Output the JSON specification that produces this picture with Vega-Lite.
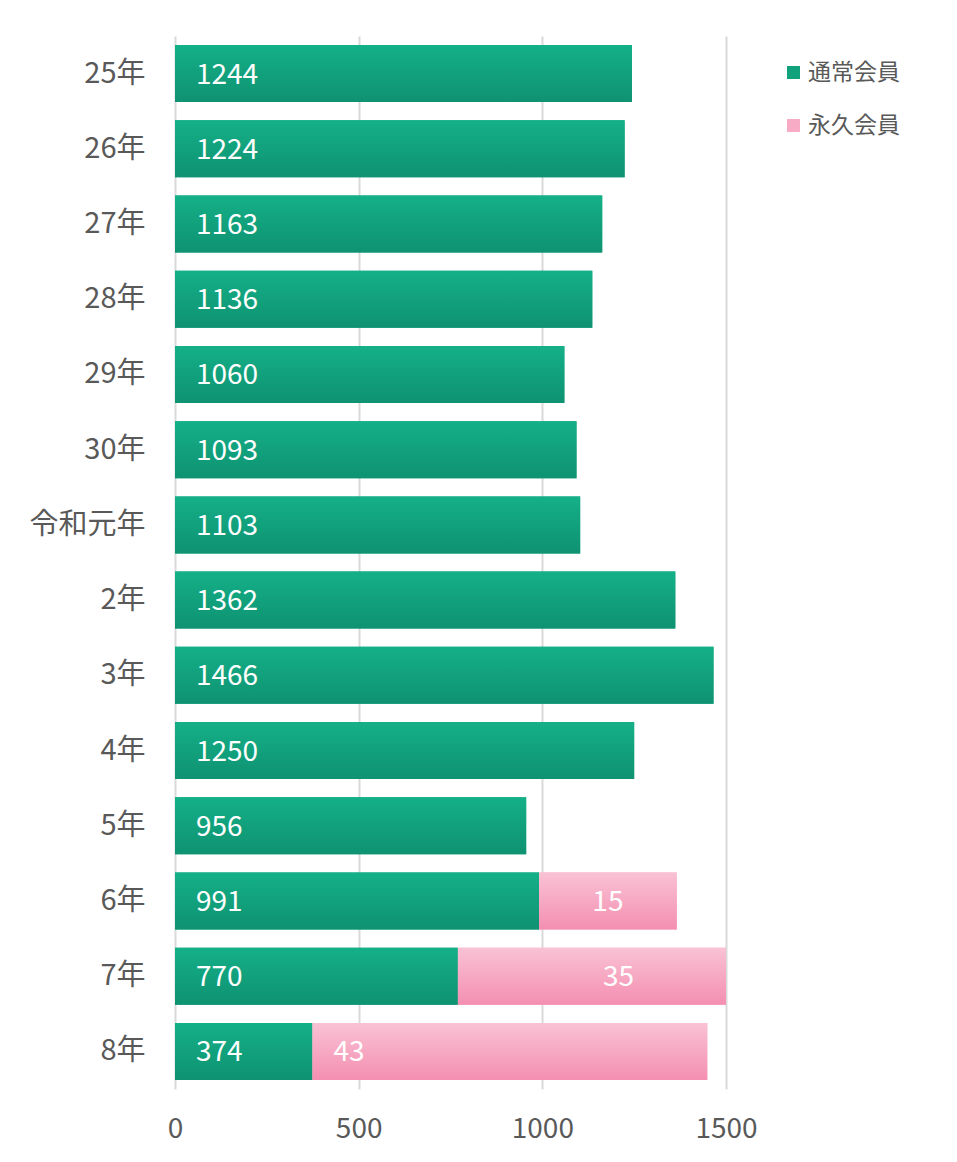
{
  "$schema": "https://vega.github.io/schema/vega-lite/v6.json",
  "width": 551,
  "height": 1053,
  "autosize": {"type": "none"},
  "padding": {"left": 175, "top": 36, "right": 231, "bottom": 73},
  "background": "white",
  "config": {"view": {"stroke": null}, "font": "Noto Sans CJK JP"},
  "data": {
    "values": [
      {"year": "25年", "series": "通常会員", "start": 0, "end": 1244, "label": 1244},
      {"year": "26年", "series": "通常会員", "start": 0, "end": 1224, "label": 1224},
      {"year": "27年", "series": "通常会員", "start": 0, "end": 1163, "label": 1163},
      {"year": "28年", "series": "通常会員", "start": 0, "end": 1136, "label": 1136},
      {"year": "29年", "series": "通常会員", "start": 0, "end": 1060, "label": 1060},
      {"year": "30年", "series": "通常会員", "start": 0, "end": 1093, "label": 1093},
      {"year": "令和元年", "series": "通常会員", "start": 0, "end": 1103, "label": 1103},
      {"year": "2年", "series": "通常会員", "start": 0, "end": 1362, "label": 1362},
      {"year": "3年", "series": "通常会員", "start": 0, "end": 1466, "label": 1466},
      {"year": "4年", "series": "通常会員", "start": 0, "end": 1250, "label": 1250},
      {"year": "5年", "series": "通常会員", "start": 0, "end": 956, "label": 956},
      {"year": "6年", "series": "通常会員", "start": 0, "end": 991, "label": 991},
      {"year": "7年", "series": "通常会員", "start": 0, "end": 770, "label": 770},
      {"year": "8年", "series": "通常会員", "start": 0, "end": 374, "label": 374},
      {"year": "6年", "series": "永久会員", "start": 991, "end": 1366, "label": 15},
      {"year": "7年", "series": "永久会員", "start": 770, "end": 1645, "label": 35},
      {"year": "8年", "series": "永久会員", "start": 374, "end": 1449, "label": 43}
    ]
  },
  "encoding": {
    "y": {
      "field": "year",
      "type": "nominal",
      "sort": ["25年", "26年", "27年", "28年", "29年", "30年", "令和元年", "2年", "3年", "4年", "5年", "6年", "7年", "8年"],
      "scale": {"paddingInner": 0.242, "paddingOuter": 0.121},
      "axis": {
        "title": null,
        "domain": false,
        "ticks": false,
        "labelFontSize": 29,
        "labelColor": "#595959",
        "labelPadding": 30,
        "labelFont": "Noto Sans CJK JP"
      }
    }
  },
  "layer": [
    {
      "mark": {"type": "bar", "clip": true},
      "encoding": {
        "x": {
          "field": "start",
          "type": "quantitative",
          "scale": {"domain": [0, 1500], "nice": false, "zero": true},
          "axis": {
            "title": null,
            "values": [0, 500, 1000, 1500],
            "format": "d",
            "domain": false,
            "ticks": false,
            "grid": true,
            "gridColor": "#d9d9d9",
            "gridWidth": 2,
            "labelFontSize": 28,
            "labelColor": "#595959",
            "labelPadding": 26,
            "labelFlush": false,
            "labelFont": "Noto Sans CJK JP"
          }
        },
        "x2": {"field": "end"},
        "color": {
          "field": "series",
          "type": "nominal",
          "scale": {"domain": ["通常会員", "永久会員"], "range": ["#11a27c", "#f7abc5"]},
          "legend": {
            "title": null,
            "orient": "none",
            "direction": "vertical",
            "legendX": 607,
            "legendY": 25,
            "symbolType": "square",
            "symbolSize": 169,
            "symbolStrokeWidth": 0,
            "labelFontSize": 23,
            "labelColor": "#595959",
            "labelFont": "Noto Sans CJK JP",
            "labelOffset": 3,
            "rowPadding": 29,
            "padding": 0
          }
        }
      }
    },
    {
      "mark": {"type": "bar", "clip": true},
      "encoding": {
        "x": {"field": "start", "type": "quantitative"},
        "x2": {"field": "end"},
        "color": {
          "condition": {
            "test": "datum.series === '永久会員'",
            "value": {"gradient": "linear", "x1": 0, "y1": 0, "x2": 0, "y2": 1, "stops": [{"offset": 0, "color": "#f9c2d4"}, {"offset": 1, "color": "#f48fb1"}]}
          },
          "value": {"gradient": "linear", "x1": 0, "y1": 0, "x2": 0, "y2": 1, "stops": [{"offset": 0, "color": "#14b088"}, {"offset": 1, "color": "#0f9271"}]}
        }
      }
    },
    {
      "transform": [{"filter": "datum.series === '通常会員' || datum.year === '8年'"}],
      "mark": {"type": "text", "align": "left", "baseline": "middle", "dx": 21, "dy": 2, "fontSize": 28, "color": "white", "font": "Noto Sans CJK JP"},
      "encoding": {
        "x": {"field": "start", "type": "quantitative"},
        "text": {"field": "label", "type": "quantitative", "format": "d"}
      }
    },
    {
      "transform": [
        {"filter": "datum.series === '永久会員' && datum.year !== '8年'"},
        {"fold": ["start", "end"], "as": ["k", "v"]}
      ],
      "mark": {"type": "text", "align": "center", "baseline": "middle", "dy": 2, "fontSize": 28, "color": "white", "font": "Noto Sans CJK JP"},
      "encoding": {
        "x": {"aggregate": "mean", "field": "v", "type": "quantitative"},
        "text": {"field": "label", "type": "quantitative", "format": "d"}
      }
    }
  ]
}
